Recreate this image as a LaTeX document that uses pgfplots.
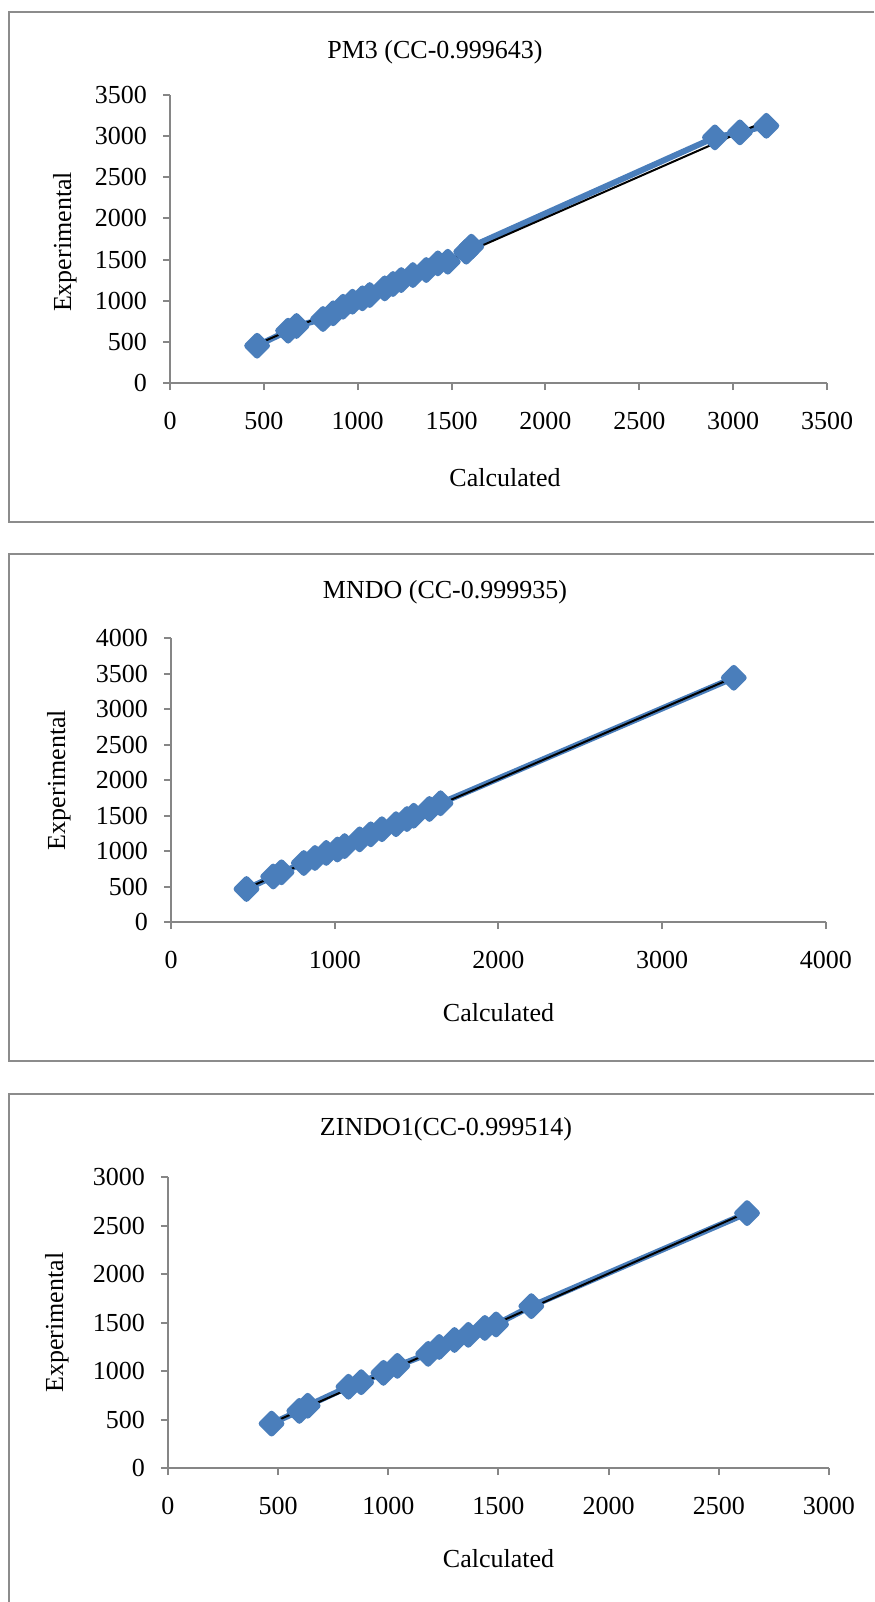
\documentclass[border=0pt]{standalone}
\usepackage{pgfplots}
\pgfplotsset{compat=1.18}
\usepackage{fontspec}
\setmainfont{Liberation Serif}

\definecolor{exblue}{HTML}{4A7EBB}
\definecolor{axgray}{HTML}{868686}
\definecolor{boxgray}{HTML}{8C8C8C}

\pgfplotsset{
  panel/.style={
    scale only axis,
    axis x line=bottom, axis y line=left,
    axis line style={axgray, line width=1pt, -},
    tick style={axgray, line width=1pt},
    major tick length=3.5pt,
    tick align=outside,
    xmin=0, ymin=0,
    scaled ticks=false,
    font=\fontsize{13}{15}\selectfont,
    /pgf/number format/assume math mode=true,
    /pgf/number format/1000 sep={},
    xticklabel style={yshift=-7.5pt},
    yticklabel style={xshift=-4.5pt},
    xlabel={Calculated}, ylabel={Experimental},
    clip=false,
  },
  obs/.style={exblue, line width=3pt, line join=round,
    mark=square*, mark size=3.5pt,
    mark options={rotate=45, fill=exblue, draw=none}},
  fit/.style={black, line width=1pt, no marks},
}

\begin{document}
\begin{tikzpicture}
\useasboundingbox (0,0) rectangle (437pt,-801pt);

% frames
\draw[boxgray, line width=1pt] (437pt,-6pt) -- (4.5pt,-6pt) -- (4.5pt,-261pt) -- (437pt,-261pt);
\draw[boxgray, line width=1pt] (437pt,-277pt) -- (4.5pt,-277pt) -- (4.5pt,-530.5pt) -- (437pt,-530.5pt);
\draw[boxgray, line width=1pt] (437pt,-547pt) -- (4.5pt,-547pt) -- (4.5pt,-801pt);

% PM3
\begin{axis}[panel,
  at={(85pt,-191.5pt)}, anchor=south west,
  width=328.5pt, height=144pt,
  xmax=3500, ymax=3500,
  xtick={0,500,...,3500}, ytick={0,500,...,3500},
  xlabel style={at={(axis description cs:0.51,-0.33)}, anchor=center},
  ylabel style={at={(axis description cs:-0.160,0.49)}, anchor=center},
]
\addplot[obs] coordinates {
  (464,453) (629,636) (674,693) (815,778) (869,847) (922,927) (972,988)
  (1025,1029) (1064,1069) (1144,1150) (1188,1203) (1232,1251) (1294,1312)
  (1365,1373) (1427,1454) (1480,1474) (1578,1596) (1605,1657)
  (2903,2985) (3036,3046) (3177,3126)
};
\addplot[fit] coordinates {(464,470) (3177,3187)};
\end{axis}

% MNDO
\begin{axis}[panel,
  at={(85.5pt,-461pt)}, anchor=south west,
  width=327.5pt, height=142pt,
  xmax=4000, ymax=4000,
  xtick={0,1000,...,4000}, ytick={0,500,...,4000},
  xlabel style={at={(axis description cs:0.5,-0.32)}, anchor=center},
  ylabel style={at={(axis description cs:-0.171,0.5)}, anchor=center},
]
\addplot[obs] coordinates {
  (461,465) (624,641) (675,700) (811,831) (879,902) (948,973) (1016,1021)
  (1060,1069) (1152,1164) (1220,1235) (1288,1307) (1374,1378) (1441,1450)
  (1482,1497) (1578,1592) (1646,1673) (3437,3440)
};
\addplot[fit] coordinates {(461,475) (3437,3446)};
\end{axis}

% ZINDO1
\begin{axis}[panel,
  at={(84pt,-734pt)}, anchor=south west,
  width=330.5pt, height=145.5pt,
  xmax=3000, ymax=3000,
  xtick={0,500,...,3000}, ytick={0,500,...,3000},
  xlabel style={at={(axis description cs:0.5,-0.313)}, anchor=center},
  ylabel style={at={(axis description cs:-0.168,0.5)}, anchor=center},
]
\addplot[obs] coordinates {
  (470,458) (596,589) (634,642) (819,838) (877,885) (978,981) (1041,1053)
  (1181,1177) (1231,1248) (1300,1320) (1363,1373) (1438,1444) (1489,1480)
  (1649,1669) (2628,2628)
};
\addplot[fit] coordinates {(470,464) (2628,2638)};
\end{axis}

% titles
\begin{scope}[font=\fontsize{13}{15}\selectfont]
\node at (217.5pt,-26pt) {PM3 (CC-0.999643)};
\node at (222.5pt,-296pt) {MNDO (CC-0.999935)};
\node at (223pt,-564.5pt) {ZINDO1(CC-0.999514)};
\end{scope}
\end{tikzpicture}
\end{document}
